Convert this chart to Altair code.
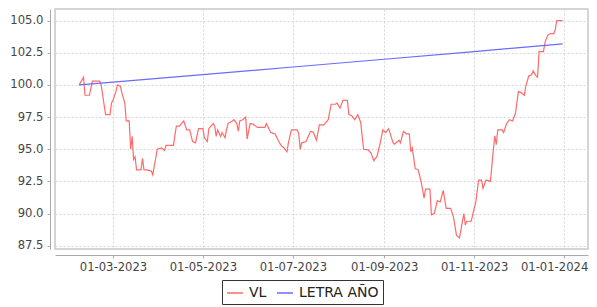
import altair as alt
import pandas as pd

# ---- data ----
vl_dates = [
    "2023-02-06", "2023-02-08", "2023-02-09", "2023-02-10", "2023-02-13", "2023-02-15",
    "2023-02-20", "2023-02-21", "2023-02-22", "2023-02-24", "2023-02-27", "2023-02-28",
    "2023-03-01", "2023-03-03", "2023-03-04", "2023-03-06", "2023-03-07", "2023-03-09",
    "2023-03-10", "2023-03-12", "2023-03-13", "2023-03-14", "2023-03-15", "2023-03-16",
    "2023-03-17", "2023-03-20", "2023-03-21", "2023-03-22", "2023-03-24", "2023-03-27",
    "2023-03-28", "2023-03-29", "2023-03-30", "2023-03-31", "2023-04-03", "2023-04-05",
    "2023-04-06", "2023-04-11", "2023-04-12", "2023-04-13", "2023-04-15", "2023-04-18",
    "2023-04-20", "2023-04-22", "2023-04-24", "2023-04-26", "2023-04-28", "2023-05-01",
    "2023-05-02", "2023-05-04", "2023-05-05", "2023-05-08", "2023-05-09", "2023-05-10",
    "2023-05-11", "2023-05-13", "2023-05-14", "2023-05-16", "2023-05-17", "2023-05-18",
    "2023-05-21", "2023-05-22", "2023-05-24", "2023-05-25", "2023-05-26", "2023-05-28",
    "2023-05-30", "2023-05-31", "2023-06-02", "2023-06-04", "2023-06-07", "2023-06-12",
    "2023-06-13", "2023-06-16", "2023-06-19", "2023-06-21", "2023-06-23", "2023-06-25",
    "2023-06-27", "2023-06-28", "2023-06-30", "2023-07-04", "2023-07-05", "2023-07-06",
    "2023-07-07", "2023-07-10", "2023-07-13", "2023-07-15", "2023-07-17", "2023-07-19",
    "2023-07-22", "2023-07-25", "2023-07-27", "2023-07-30", "2023-07-31", "2023-08-02",
    "2023-08-04", "2023-08-07", "2023-08-08", "2023-08-10", "2023-08-12", "2023-08-14",
    "2023-08-16", "2023-08-18", "2023-08-21", "2023-08-23", "2023-08-25", "2023-08-26",
    "2023-08-27", "2023-08-29", "2023-08-31", "2023-09-02", "2023-09-04", "2023-09-07",
    "2023-09-08", "2023-09-11", "2023-09-12", "2023-09-14", "2023-09-16", "2023-09-18",
    "2023-09-19", "2023-09-20", "2023-09-22", "2023-09-24", "2023-09-26", "2023-09-28",
    "2023-09-29", "2023-10-02", "2023-10-03", "2023-10-05", "2023-10-07", "2023-10-09",
    "2023-10-11", "2023-10-13", "2023-10-16", "2023-10-18", "2023-10-20", "2023-10-22",
    "2023-10-25", "2023-10-26", "2023-10-27", "2023-10-30", "2023-11-01", "2023-11-02",
    "2023-11-04", "2023-11-06", "2023-11-07", "2023-11-09", "2023-11-12", "2023-11-14",
    "2023-11-15", "2023-11-16", "2023-11-17", "2023-11-20", "2023-11-21", "2023-11-23",
    "2023-11-25", "2023-11-27", "2023-11-29", "2023-12-01", "2023-12-03", "2023-12-05",
    "2023-12-06", "2023-12-08", "2023-12-10", "2023-12-11", "2023-12-13", "2023-12-14",
    "2023-12-15", "2023-12-18", "2023-12-19", "2023-12-21", "2023-12-23", "2023-12-25",
    "2023-12-26", "2023-12-27", "2023-12-31",
]
vl_values = [
    100.0, 100.4, 100.6, 99.2, 99.2, 100.3,
    100.3, 100.0, 99.2, 97.7, 97.7, 98.6,
    98.8, 99.5, 100.0, 99.9, 99.4, 98.6,
    97.2, 97.2, 95.0, 96.0, 94.2, 94.4,
    93.4, 93.4, 94.3, 93.4, 93.4, 93.3,
    93.0, 93.7, 94.3, 95.0, 95.1, 94.9,
    95.3, 95.3, 96.1, 96.8, 96.8, 97.2,
    96.5, 96.5, 95.6, 95.5, 96.6, 96.6,
    95.9, 95.6, 96.6, 97.0, 96.8, 96.0,
    96.5, 96.0, 96.3, 95.9, 96.5, 97.0,
    97.2, 97.3, 97.0, 96.4, 97.2, 97.3,
    97.5, 95.8, 97.0, 96.95, 96.7, 96.7,
    97.0, 96.3, 96.2, 95.7, 95.3, 95.1,
    94.8, 95.5, 96.5, 96.5, 96.2, 95.0,
    95.5, 95.6, 96.4, 96.3, 95.7, 96.9,
    96.9, 97.3, 98.5, 98.5, 98.6, 98.2,
    98.8, 98.8, 97.7, 97.6, 97.3, 97.7,
    97.1, 95.0, 94.95, 94.7, 94.1, 94.3,
    94.4, 95.35, 96.5, 96.3, 96.6, 95.5,
    95.4, 95.7, 95.5, 96.4, 96.2, 96.2,
    94.8, 95.1, 93.5, 93.4, 92.5, 91.2,
    91.9, 91.9, 89.9, 90.0, 91.0, 90.9,
    91.8, 90.4, 90.4, 89.7, 88.3, 88.1,
    90.0, 89.1, 89.4, 89.4, 90.4, 90.8,
    92.6, 92.6, 91.95, 92.6, 92.5, 94.95,
    96.05, 95.35, 96.5, 96.5, 96.3, 97.0,
    97.3, 97.2, 97.8, 99.5, 99.4, 99.2,
    99.9, 100.7, 100.8, 101.1, 100.7, 100.6,
    102.6, 102.6, 103.3, 103.9, 104.0, 104.0,
    104.3, 105.0, 105.0,
]
letra_dates = ["2023-02-06", "2023-03-01", "2023-05-01", "2023-07-01",
               "2023-09-01", "2023-11-01", "2023-12-31"]
letra_values = [100.0, 100.22, 100.8, 101.4, 102.0, 102.6, 103.2]

series_names = ["VL", "LETRA AÑO"]
series_colors = ["#ff6a6a", "#6a6aff"]
y_ticks = [87.5, 90.0, 92.5, 95.0, 97.5, 100.0, 102.5, 105.0]
x_ticks = [(2023, 3), (2023, 5), (2023, 7), (2023, 9), (2023, 11), (2024, 1)]

df = pd.concat([
    pd.DataFrame({"fecha": vl_dates, "valor": vl_values, "serie": series_names[0]}),
    pd.DataFrame({"fecha": letra_dates, "valor": letra_values, "serie": series_names[1]}),
])

FONT = "DejaVu Sans"

x_enc = alt.X(
    "fecha:T",
    title=None,
    scale=alt.Scale(type="utc", domain=[alt.DateTime(year=2023, month=1, date=20, hours=16, utc=True),
                                         alt.DateTime(year=2024, month=1, date=17, hours=5, utc=True)]),
    axis=alt.Axis(
        values=[alt.DateTime(year=y, month=m, date=1, utc=True) for y, m in x_ticks],
        labelExpr="utcFormat(datum.value, '%d-%m-%Y')",
        labelOffset={"condition": {"test": "datum.value >= utc(2023, 11, 20)", "value": -10}, "value": 0},
        offset=6, tickSize=3, labelPadding=3,
        labelFontSize=11.6, labelColor="#444444", labelFont=FONT,
        domainColor="#aaaaaa", tickColor="#aaaaaa",
        grid=True, gridColor="#d6d6d6", gridDash=[2, 2],
    ),
)
y_enc = alt.Y(
    "valor:Q",
    title=None,
    scale=alt.Scale(domain=[87.24, 105.91], nice=False, zero=False),
    axis=alt.Axis(
        values=y_ticks, format=".1f", offset=5, tickSize=3, labelPadding=4,
        labelFontSize=11.6, labelColor="#444444", labelFont=FONT,
        domainColor="#aaaaaa", tickColor="#aaaaaa",
        grid=True, gridColor="#d6d6d6", gridDash=[2, 2],
    ),
)

chart = alt.Chart(df).mark_line(strokeWidth=1.2, interpolate="linear").encode(
    x=x_enc,
    y=y_enc,
    color=alt.Color(
        "serie:N",
        scale=alt.Scale(domain=series_names, range=series_colors),
        legend=alt.Legend(
            title=None, orient="none", legendX=167, legendY=271, direction="horizontal",
            symbolType="stroke", symbolSize=256, symbolStrokeWidth=1.5,
            labelFontSize=14, labelFont=FONT, labelColor="#222222", labelOffset=5,
            columnPadding=7, padding=4, strokeColor="#333333", fillColor="white",
        ),
    ),
    detail="serie:N",
).properties(
    width=533, height=240,
    padding={"left": 47, "top": 1, "right": 1, "bottom": 57},
    autosize=alt.AutoSizeParams(type="none"),
    background="white",
).configure_view(
    stroke="#c8c8c8", strokeWidth=1.5,
)

chart.save("out.html", embed_options={"renderer": "svg", "actions": False})
